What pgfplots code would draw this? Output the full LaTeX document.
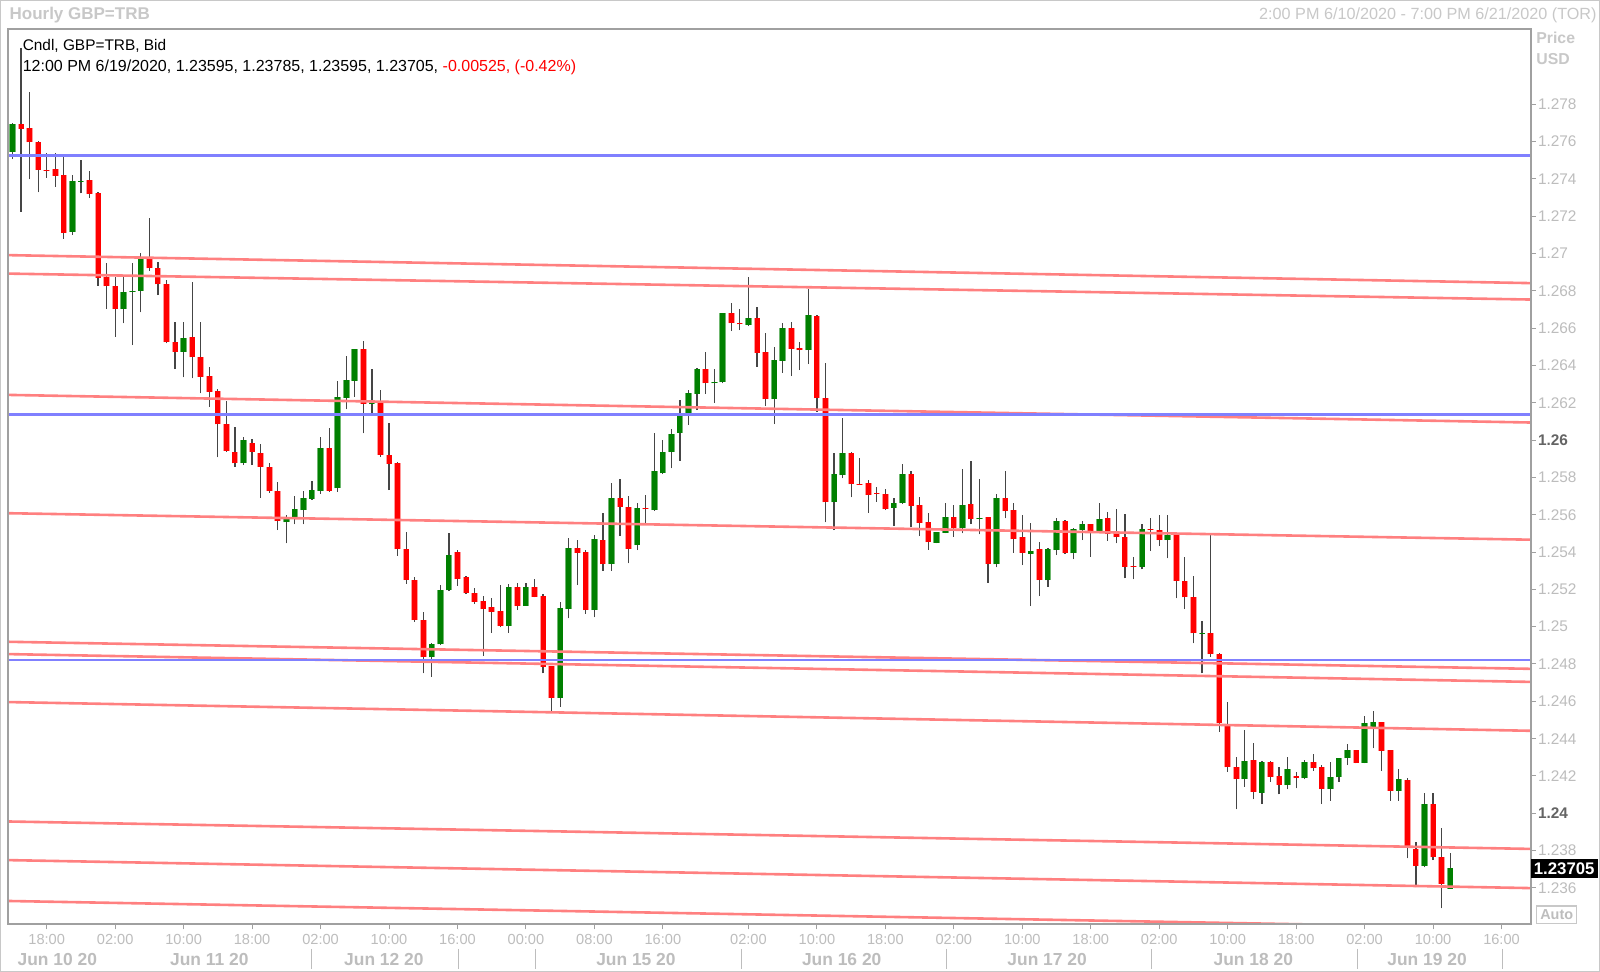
\documentclass[border=0pt]{standalone}
\usepackage{pgfplots}
\pgfplotsset{compat=1.18}
\usepackage{pgfplotstable}
\usepackage{fontspec}
\setmainfont{Liberation Sans}
\definecolor{cgreen}{HTML}{008000}
\definecolor{cred}{HTML}{FF0000}
\definecolor{cgreenl}{HTML}{70B870}
\definecolor{credl}{HTML}{FF9A9A}
\definecolor{wick}{HTML}{454545}
\definecolor{hblue}{HTML}{8080FF}
\definecolor{hred}{HTML}{FF8080}
\definecolor{lgray}{HTML}{BDBDBD}
\definecolor{tgray}{HTML}{C8C8C8}
\definecolor{framec}{HTML}{A0A0A0}
\definecolor{dgray}{HTML}{646464}

\pgfplotstableread{
i o h l c
0 1.27545 1.27701 1.27506 1.27692
1 1.27692 1.28100 1.27224 1.27667
2 1.27674 1.27863 1.27397 1.27595
3 1.27595 1.27602 1.27327 1.27447
4 1.27449 1.27536 1.27406 1.27445
5 1.27451 1.27536 1.27358 1.27417
6 1.27420 1.27518 1.27079 1.27111
7 1.27115 1.27420 1.27099 1.27388
8 1.27386 1.27501 1.27322 1.27390
9 1.27393 1.27443 1.27299 1.27318
10 1.27322 1.27331 1.26827 1.26870
11 1.26874 1.26950 1.26702 1.26824
12 1.26827 1.26872 1.26554 1.26702
13 1.26702 1.26872 1.26625 1.26795
14 1.26793 1.26950 1.26509 1.26797
15 1.26799 1.27000 1.26684 1.26970
16 1.26970 1.27188 1.26906 1.26920
17 1.26924 1.26956 1.26777 1.26834
18 1.26836 1.26858 1.26518 1.26524
19 1.26527 1.26634 1.26380 1.26473
20 1.26473 1.26634 1.26336 1.26545
21 1.26550 1.26848 1.26331 1.26443
22 1.26443 1.26634 1.26250 1.26339
23 1.26343 1.26393 1.26179 1.26259
24 1.26263 1.26273 1.25907 1.26084
25 1.26086 1.26211 1.25938 1.25943
26 1.25938 1.26068 1.25857 1.25875
27 1.25875 1.26018 1.25866 1.26000
28 1.25986 1.26004 1.25866 1.25938
29 1.25929 1.25979 1.25691 1.25857
30 1.25857 1.25879 1.25718 1.25727
31 1.25727 1.25777 1.25518 1.25566
32 1.25559 1.25598 1.25446 1.25589
33 1.25589 1.25700 1.25548 1.25629
34 1.25625 1.25727 1.25548 1.25688
35 1.25686 1.25782 1.25679 1.25732
36 1.25729 1.26018 1.25711 1.25959
37 1.25959 1.26063 1.25723 1.25729
38 1.25741 1.26318 1.25723 1.26229
39 1.26227 1.26450 1.26164 1.26322
40 1.26318 1.26489 1.26232 1.26489
41 1.26489 1.26532 1.26036 1.26193
42 1.26193 1.26379 1.26143 1.26200
43 1.26200 1.26268 1.25911 1.25920
44 1.25920 1.26089 1.25732 1.25872
45 1.25879 1.25884 1.25380 1.25414
46 1.25414 1.25505 1.25230 1.25250
47 1.25250 1.25268 1.25026 1.25035
48 1.25035 1.25080 1.24750 1.24835
49 1.24835 1.24910 1.24732 1.24905
50 1.24905 1.25223 1.24901 1.25196
51 1.25196 1.25503 1.25190 1.25384
52 1.25400 1.25411 1.25218 1.25253
53 1.25268 1.25270 1.25175 1.25178
54 1.25178 1.25205 1.25121 1.25134
55 1.25139 1.25164 1.24842 1.25094
56 1.25103 1.25151 1.24967 1.25080
57 1.25084 1.25223 1.24996 1.25003
58 1.25003 1.25228 1.24967 1.25210
59 1.25210 1.25232 1.25089 1.25110
60 1.25112 1.25232 1.25112 1.25214
61 1.25214 1.25253 1.25157 1.25160
62 1.25164 1.25175 1.24750 1.24785
63 1.24789 1.24789 1.24550 1.24619
64 1.24619 1.25134 1.24571 1.25098
65 1.25094 1.25473 1.25044 1.25419
66 1.25419 1.25464 1.25223 1.25396
67 1.25400 1.25411 1.25068 1.25089
68 1.25089 1.25491 1.25050 1.25468
69 1.25464 1.25607 1.25300 1.25335
70 1.25335 1.25771 1.25300 1.25691
71 1.25691 1.25789 1.25485 1.25643
72 1.25643 1.25700 1.25339 1.25418
73 1.25437 1.25661 1.25410 1.25637
74 1.25637 1.25705 1.25554 1.25629
75 1.25625 1.26036 1.25620 1.25832
76 1.25822 1.26000 1.25818 1.25938
77 1.25936 1.26057 1.25848 1.26032
78 1.26039 1.26214 1.25889 1.26134
79 1.26139 1.26268 1.26081 1.26250
80 1.26247 1.26384 1.26161 1.26379
81 1.26379 1.26473 1.26247 1.26304
82 1.26304 1.26379 1.26200 1.26311
83 1.26309 1.26682 1.26304 1.26679
84 1.26679 1.26736 1.26584 1.26625
85 1.26629 1.26700 1.26589 1.26620
86 1.26616 1.26872 1.26610 1.26652
87 1.26652 1.26711 1.26393 1.26468
88 1.26472 1.26575 1.26182 1.26218
89 1.26218 1.26497 1.26086 1.26429
90 1.26425 1.26625 1.26361 1.26602
91 1.26602 1.26634 1.26343 1.26488
92 1.26491 1.26527 1.26375 1.26482
93 1.26482 1.26807 1.26407 1.26670
94 1.26664 1.26670 1.26152 1.26223
95 1.26223 1.26414 1.25559 1.25666
96 1.25666 1.25932 1.25518 1.25818
97 1.25812 1.26116 1.25794 1.25932
98 1.25932 1.25935 1.25693 1.25762
99 1.25764 1.25902 1.25759 1.25762
100 1.25768 1.25786 1.25611 1.25705
101 1.25714 1.25746 1.25669 1.25712
102 1.25711 1.25736 1.25625 1.25628
103 1.25637 1.25687 1.25539 1.25664
104 1.25661 1.25871 1.25657 1.25818
105 1.25818 1.25834 1.25532 1.25646
106 1.25650 1.25696 1.25485 1.25557
107 1.25562 1.25607 1.25411 1.25452
108 1.25450 1.25508 1.25446 1.25505
109 1.25503 1.25664 1.25500 1.25589
110 1.25589 1.25652 1.25482 1.25527
111 1.25527 1.25843 1.25500 1.25650
112 1.25655 1.25889 1.25550 1.25575
113 1.25578 1.25791 1.25494 1.25582
114 1.25586 1.25590 1.25235 1.25335
115 1.25334 1.25711 1.25318 1.25691
116 1.25691 1.25834 1.25580 1.25619
117 1.25625 1.25664 1.25396 1.25468
118 1.25478 1.25598 1.25330 1.25396
119 1.25390 1.25557 1.25110 1.25407
120 1.25414 1.25455 1.25164 1.25250
121 1.25250 1.25419 1.25214 1.25414
122 1.25410 1.25580 1.25384 1.25568
123 1.25568 1.25570 1.25389 1.25393
124 1.25393 1.25530 1.25360 1.25526
125 1.25518 1.25568 1.25464 1.25548
126 1.25548 1.25550 1.25375 1.25514
127 1.25514 1.25664 1.25510 1.25577
128 1.25580 1.25612 1.25460 1.25496
129 1.25500 1.25628 1.25446 1.25478
130 1.25482 1.25603 1.25259 1.25321
131 1.25325 1.25375 1.25253 1.25321
132 1.25318 1.25548 1.25307 1.25521
133 1.25526 1.25580 1.25405 1.25518
134 1.25518 1.25598 1.25432 1.25464
135 1.25464 1.25598 1.25366 1.25491
136 1.25491 1.25495 1.25151 1.25246
137 1.25246 1.25375 1.25094 1.25157
138 1.25160 1.25271 1.24910 1.24964
139 1.24962 1.25032 1.24750 1.24966
140 1.24964 1.25491 1.24839 1.24853
141 1.24853 1.24857 1.24437 1.24482
142 1.24473 1.24594 1.24223 1.24246
143 1.24250 1.24303 1.24021 1.24182
144 1.24182 1.24446 1.24142 1.24282
145 1.24285 1.24378 1.24074 1.24115
146 1.24110 1.24280 1.24049 1.24276
147 1.24276 1.24280 1.24169 1.24196
148 1.24199 1.24249 1.24101 1.24151
149 1.24151 1.24299 1.24128 1.24235
150 1.24199 1.24222 1.24133 1.24187
151 1.24187 1.24285 1.24181 1.24276
152 1.24276 1.24317 1.24228 1.24240
153 1.24246 1.24258 1.24049 1.24130
154 1.24130 1.24276 1.24067 1.24192
155 1.24192 1.24298 1.24169 1.24294
156 1.24294 1.24371 1.24258 1.24339
157 1.24339 1.24341 1.24267 1.24271
158 1.24271 1.24521 1.24267 1.24485
159 1.24455 1.24549 1.24348 1.24487
160 1.24487 1.24490 1.24228 1.24335
161 1.24339 1.24341 1.24067 1.24121
162 1.24121 1.24235 1.24067 1.24181
163 1.24181 1.24187 1.23758 1.23821
164 1.23806 1.23847 1.23603 1.23717
165 1.23717 1.24110 1.23710 1.24049
166 1.24049 1.24110 1.23749 1.23764
167 1.23767 1.23919 1.23490 1.23621
168 1.23595 1.23785 1.23595 1.23705
}\candles

\begin{document}
\begin{tikzpicture}[x=1pt,y=1pt]
\path[use as bounding box] (0,0) rectangle (800,486);
\fill[white] (0,0) rectangle (800,486);
\begin{axis}[
  at={(4.1pt,23.75pt)}, anchor=south west,
  scale only axis, width=761.2pt, height=447.95pt,
  xmin=-0.5, xmax=177.4, ymin=1.23404, ymax=1.28205,
  clip mode=individual,
  axis on top,
  axis line style={framec, line width=1pt},
  tick align=outside,
  major tick length=2.5pt,
  tick style={framec, line width=0.5pt},
  ytick pos=right, yticklabel pos=right,
  ytick={1.236,1.238,1.240,1.242,1.244,1.246,1.248,1.250,1.252,1.254,1.256,1.258,1.260,1.262,1.264,1.266,1.268,1.270,1.272,1.274,1.276,1.278},
  yticklabels={1.236,1.238,{\color{dgray}\bfseries 1.24},1.242,1.244,1.246,1.248,1.25,1.252,1.254,1.256,1.258,{\color{dgray}\bfseries 1.26},1.262,1.264,1.266,1.268,1.27,1.272,1.274,1.276,1.278},
  yticklabel style={font=\fontsize{7.7}{9}\selectfont, text=lgray, anchor=west, inner sep=0pt, xshift=1pt},
  xtick pos=bottom,
  xtick={4,12,20,28,36,44,52,60,68,76,86,94,102,110,118,126,134,142,150,158,166,174},
  xticklabels={18:00,02:00,10:00,18:00,02:00,10:00,16:00,00:00,08:00,16:00,02:00,10:00,18:00,02:00,10:00,18:00,02:00,10:00,18:00,02:00,10:00,16:00},
  xticklabel style={font=\fontsize{7.3}{9}\selectfont, text=lgray, anchor=north, inner sep=0pt, yshift=-2pt},
  candle/.style={draw=none, mark=none, forget plot},
]
% wicks
\addplot[candle, error bars/.cd, y dir=plus, y explicit, error mark=none,
  error bar style={draw=wick, line width=0.6pt}]
  table[x=i, y=l, y error plus expr=\thisrow{h}-\thisrow{l}] {\candles};
% green bodies
\addplot[candle, restrict expr to domain={\thisrow{c}-\thisrow{o}}{0:1},
  error bars/.cd, y dir=plus, y explicit, error mark=none,
  error bar style={draw=cgreenl, line width=3.3pt}]
  table[x=i, y=o, y error plus expr=\thisrow{c}-\thisrow{o}] {\candles};
\addplot[candle, restrict expr to domain={\thisrow{c}-\thisrow{o}}{0:1},
  error bars/.cd, y dir=plus, y explicit, error mark=none,
  error bar style={draw=cgreen, line width=2.5pt}]
  table[x=i, y=o, y error plus expr=\thisrow{c}-\thisrow{o}] {\candles};
% red bodies
\addplot[candle, restrict expr to domain={\thisrow{o}-\thisrow{c}}{0:1},
  error bars/.cd, y dir=plus, y explicit, error mark=none,
  error bar style={draw=credl, line width=3.3pt}]
  table[x=i, y=c, y error plus expr=\thisrow{o}-\thisrow{c}] {\candles};
\addplot[candle, restrict expr to domain={\thisrow{o}-\thisrow{c}}{0:1},
  error bars/.cd, y dir=plus, y explicit, error mark=none,
  error bar style={draw=cred, line width=2.5pt}]
  table[x=i, y=c, y error plus expr=\thisrow{o}-\thisrow{c}] {\candles};
% sloped support/resistance lines
\addplot[hred, line width=1.3pt] coordinates {(-0.5,1.26991) (177.4,1.26841)};
\addplot[hred, line width=1.3pt] coordinates {(-0.5,1.26892) (177.4,1.26753)};
\addplot[hred, line width=1.3pt] coordinates {(-0.5,1.26242) (177.4,1.26094)};
\addplot[hred, line width=1.3pt] coordinates {(-0.5,1.25608) (177.4,1.25466)};
\addplot[hred, line width=1.3pt] coordinates {(-0.5,1.24919) (177.4,1.24774)};
\addplot[hred, line width=1.3pt] coordinates {(-0.5,1.24853) (177.4,1.24704)};
\addplot[hred, line width=1.3pt] coordinates {(-0.5,1.24596) (177.4,1.24442)};
\addplot[hred, line width=1.3pt] coordinates {(-0.5,1.23956) (177.4,1.23809)};
\addplot[hred, line width=1.3pt] coordinates {(-0.5,1.23749) (177.4,1.23599)};
\addplot[hred, line width=1.3pt] coordinates {(-0.5,1.23530) (177.4,1.23383)};
% horizontal lines
\addplot[hblue, line width=1.3pt] coordinates {(-0.5,1.27524) (177.4,1.27524)};
\addplot[hblue, line width=1.3pt] coordinates {(-0.5,1.26138) (177.4,1.26138)};
\addplot[hblue, line width=1.3pt] coordinates {(-0.5,1.24821) (177.4,1.24821)};
% date row separators
\pgfplotsinvokeforeach{34.93,52.12,61.07,85.14,109.1,133.1,157.2,174.1}{
  \draw[lgray, line width=0.5pt] ([yshift=-12.25pt]axis cs:#1,1.23404) -- ([yshift=-22.25pt]axis cs:#1,1.23404);
}
\node[font=\fontsize{8.7}{10}\selectfont\bfseries, text=lgray, inner sep=0pt] at ([yshift=-17.35pt]axis cs:5.24,1.23404) {Jun 10 20};
\node[font=\fontsize{8.7}{10}\selectfont\bfseries, text=lgray, inner sep=0pt] at ([yshift=-17.35pt]axis cs:23.0,1.23404) {Jun 11 20};
\node[font=\fontsize{8.7}{10}\selectfont\bfseries, text=lgray, inner sep=0pt] at ([yshift=-17.35pt]axis cs:43.4,1.23404) {Jun 12 20};
\node[font=\fontsize{8.7}{10}\selectfont\bfseries, text=lgray, inner sep=0pt] at ([yshift=-17.35pt]axis cs:72.85,1.23404) {Jun 15 20};
\node[font=\fontsize{8.7}{10}\selectfont\bfseries, text=lgray, inner sep=0pt] at ([yshift=-17.35pt]axis cs:96.9,1.23404) {Jun 16 20};
\node[font=\fontsize{8.7}{10}\selectfont\bfseries, text=lgray, inner sep=0pt] at ([yshift=-17.35pt]axis cs:120.9,1.23404) {Jun 17 20};
\node[font=\fontsize{8.7}{10}\selectfont\bfseries, text=lgray, inner sep=0pt] at ([yshift=-17.35pt]axis cs:145.0,1.23404) {Jun 18 20};
\node[font=\fontsize{8.7}{10}\selectfont\bfseries, text=lgray, inner sep=0pt] at ([yshift=-17.35pt]axis cs:165.3,1.23404) {Jun 19 20};
\end{axis}
% header texts
\node[anchor=west, font=\fontsize{8.5}{10}\selectfont\bfseries, text=tgray, inner sep=0pt] at (4.6,478.35) {Hourly GBP=TRB};
\node[anchor=east, font=\fontsize{8.1}{9}\selectfont, text=tgray, inner sep=0pt] at (798.5,478.35) {2:00 PM 6/10/2020 - 7:00 PM 6/21/2020 (TOR)};
\node[anchor=west, font=\fontsize{7.7}{9}\selectfont, inner sep=0pt] at (11.2,463.05) {Cndl, GBP=TRB, Bid};
\node[anchor=west, font=\fontsize{8.0}{9}\selectfont, inner sep=0pt] at (11.2,452.35) {12:00 PM 6/19/2020, 1.23595, 1.23785, 1.23595, 1.23705, \textcolor{cred}{-0.00525, (-0.42\%)}};
\node[anchor=west, font=\fontsize{7.9}{9}\selectfont\bfseries, text=tgray, inner sep=0pt] at (768,467.1) {Price};
\node[anchor=west, font=\fontsize{7.9}{9}\selectfont\bfseries, text=tgray, inner sep=0pt] at (768,456.4) {USD};
% price tag
\fill[black] (765.3,47.2) rectangle (799,56.5);
\node[text=white, font=\fontsize{8.4}{9}\selectfont\bfseries, inner sep=0pt] at (782.1,51.85) {1.23705};
% auto box
\draw[tgray, line width=0.6pt] (768.4,24.25) rectangle (788.3,33);
\node[font=\fontsize{7.2}{8}\selectfont\bfseries, text=lgray, inner sep=0pt] at (778.35,28.6) {Auto};
% outer border
\draw[tgray, line width=0.6pt] (0.3,0.3) rectangle (799.7,485.7);
\end{tikzpicture}
\end{document}
